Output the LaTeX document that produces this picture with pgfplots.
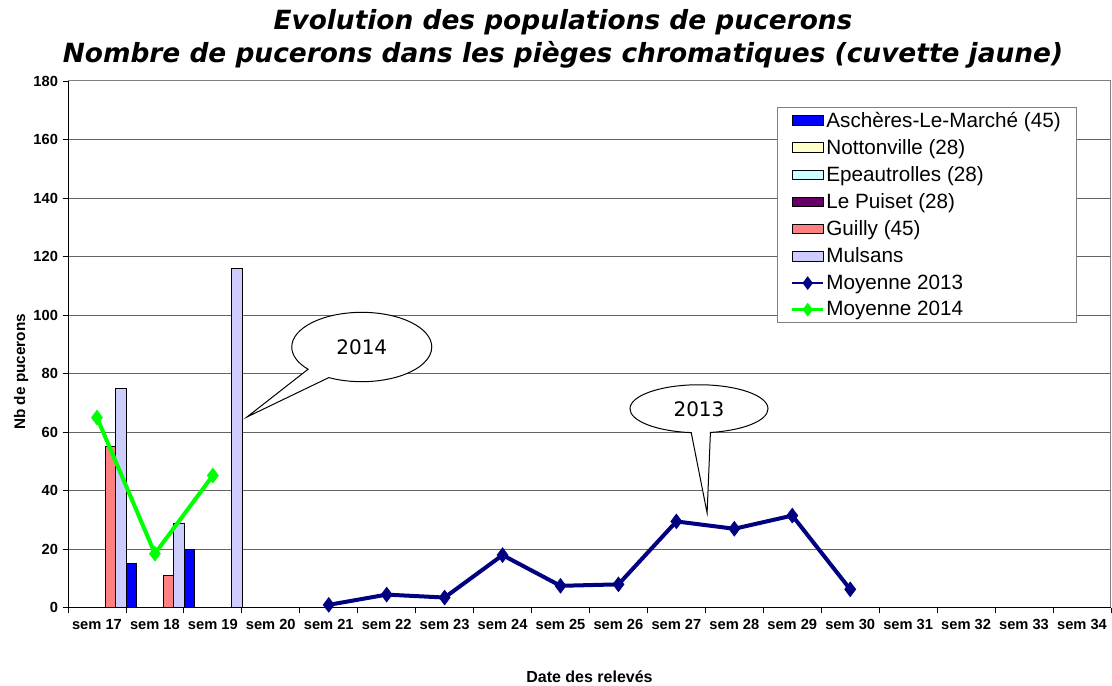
\documentclass[border=0pt]{standalone}
\usepackage{fontspec}
\setmainfont{Liberation Sans}
\newfontfamily\verdana{DejaVu Sans}
\usepackage{pgfplots}
\pgfplotsset{compat=1.18}
\usetikzlibrary{shapes.callouts}
\definecolor{cAsch}{RGB}{0,0,255}
\definecolor{cNott}{RGB}{255,255,204}
\definecolor{cEpea}{RGB}{204,255,255}
\definecolor{cPuis}{RGB}{102,0,102}
\definecolor{cGuil}{RGB}{255,128,128}
\definecolor{cMuls}{RGB}{204,204,255}
\definecolor{cM13}{RGB}{0,0,128}
\definecolor{cM14}{RGB}{0,255,0}
\definecolor{gridc}{RGB}{100,100,100}
\pgfplotsset{
  barleg/.style={legend image code/.code={\draw[##1, line width=0.75pt] (0pt,-3.6pt) rectangle (23pt,3.6pt);}},
  lineleg/.style={legend image code/.code={\draw[##1, mark=none] (0pt,0pt) -- (23pt,0pt); \draw[##1] plot coordinates {(11.5pt,0pt)};}},
}
\begin{document}
\begin{tikzpicture}
\begin{axis}[
  scale only axis, width=782pt, height=395pt,
  xmin=-0.5, xmax=17.5, ymin=0, ymax=180,
  axis line style={draw=gray, line width=0.75pt},
  xtick={0,...,17},
  xticklabels={sem 17,sem 18,sem 19,sem 20,sem 21,sem 22,sem 23,sem 24,sem 25,sem 26,sem 27,sem 28,sem 29,sem 30,sem 31,sem 32,sem 33,sem 34},
  minor xtick={-0.5,0.5,...,17.5},
  major x tick style={draw=none},
  minor x tick style={draw=black, line width=0.6pt},
  ytick={0,20,...,180},
  y tick style={draw=black, line width=0.6pt},
  tick pos=left, tick align=outside,
  major tick length=4pt, minor tick length=4pt,
  ymajorgrids, grid style={draw=gridc, line width=0.75pt},
  /pgf/number format/assume math mode=true,
  ticklabel style={font=\fontsize{11}{13}\selectfont\bfseries},
  xticklabel style={yshift=-1pt},
  clip=false,
  legend cell align=left,
  legend style={at={(0.680,0.951)}, anchor=north west, draw=gray, line width=0.75pt,
    font=\fontsize{15.5}{17}\selectfont, inner xsep=10pt, inner ysep=3.5pt, row sep=7.6pt,
    nodes={inner xsep=1.5pt, inner ysep=0pt}},
]
% frame: black left and bottom
\draw[black, line width=0.75pt] (rel axis cs:0,1) -- (rel axis cs:0,0) -- (rel axis cs:1,0);
% bars
\addplot[ybar, bar width=0.18, bar shift=0pt, fill=cGuil, draw=black, line width=0.6pt, forget plot]
  coordinates {(0.235,55) (1.235,11)};
\addplot[ybar, bar width=0.18, bar shift=0pt, fill=cMuls, draw=black, line width=0.6pt, forget plot]
  coordinates {(0.415,75) (1.415,29) (2.415,116)};
\addplot[ybar, bar width=0.18, bar shift=0pt, fill=cAsch, draw=black, line width=0.6pt, forget plot]
  coordinates {(0.595,15) (1.595,20)};
% lines
\addplot[cM13, line width=3pt, mark=diamond*, mark size=5.5pt, mark options={line width=0.5pt}, forget plot]
  coordinates {(4,1) (5,4.5) (6,3.5) (7,18) (8,7.5) (9,8) (10,29.5) (11,27) (12,31.5) (13,6.3)};
\addplot[cM14, line width=3pt, mark=diamond*, mark size=5.5pt, mark options={line width=0.5pt}, forget plot]
  coordinates {(0,65) (1,18.5) (2,45.2)};
% legend entries
\addlegendimage{barleg, fill=cAsch, draw=black}
\addlegendentry{Aschères-Le-Marché (45)}
\addlegendimage{barleg, fill=cNott, draw=black}
\addlegendentry{Nottonville (28)}
\addlegendimage{barleg, fill=cEpea, draw=black}
\addlegendentry{Epeautrolles (28)}
\addlegendimage{barleg, fill=cPuis, draw=black}
\addlegendentry{Le Puiset (28)}
\addlegendimage{barleg, fill=cGuil, draw=black}
\addlegendentry{Guilly (45)}
\addlegendimage{barleg, fill=cMuls, draw=black}
\addlegendentry{Mulsans}
\addlegendimage{lineleg, cM13, line width=2pt, mark=diamond*, mark size=3.5pt}
\addlegendentry{Moyenne 2013}
\addlegendimage{lineleg, cM14, line width=2pt, mark=diamond*, mark size=3.5pt}
\addlegendentry{Moyenne 2014}
% callouts
\node[ellipse callout, draw=black, fill=white, line width=0.75pt, minimum width=105pt, minimum height=52pt, inner sep=0pt,
  callout absolute pointer={(axis cs:2.59,65.2)}, callout pointer arc=22,
  font=\verdana\fontsize{15}{17}\selectfont] at (axis cs:4.57,89.1) {2014};
\node[ellipse callout, draw=black, fill=white, line width=0.75pt, minimum width=103.5pt, minimum height=36pt, inner sep=0pt,
  callout absolute pointer={(axis cs:10.53,32.4)}, callout pointer arc=16,
  font=\verdana\fontsize{15}{17}\selectfont] at (axis cs:10.39,68.0) {2013};
% titles and labels
\node[anchor=base, font=\verdana\bfseries\itshape\fontsize{19.8}{22}\selectfont] at (axis description cs:0.4746,1.0968) {Evolution des populations de pucerons};
\node[anchor=base, font=\verdana\bfseries\itshape\fontsize{19.8}{22}\selectfont] at (axis description cs:0.4746,1.036) {Nombre de pucerons dans les pièges chromatiques (cuvette jaune)};
\node[rotate=90, font=\fontsize{11.5}{13}\selectfont\bfseries] at (axis description cs:-0.045,0.448) {Nb de pucerons};
\node[font=\fontsize{12}{14}\selectfont\bfseries] at (axis description cs:0.5,-0.13) {Date des relevés};
\coordinate (bbbl) at (axis description cs:-0.0652,-0.148);
\coordinate (bbtr) at (axis description cs:1.001,1.1537);
\end{axis}
\pgfresetboundingbox
\useasboundingbox (bbbl) rectangle (bbtr);
\end{tikzpicture}
\end{document}
